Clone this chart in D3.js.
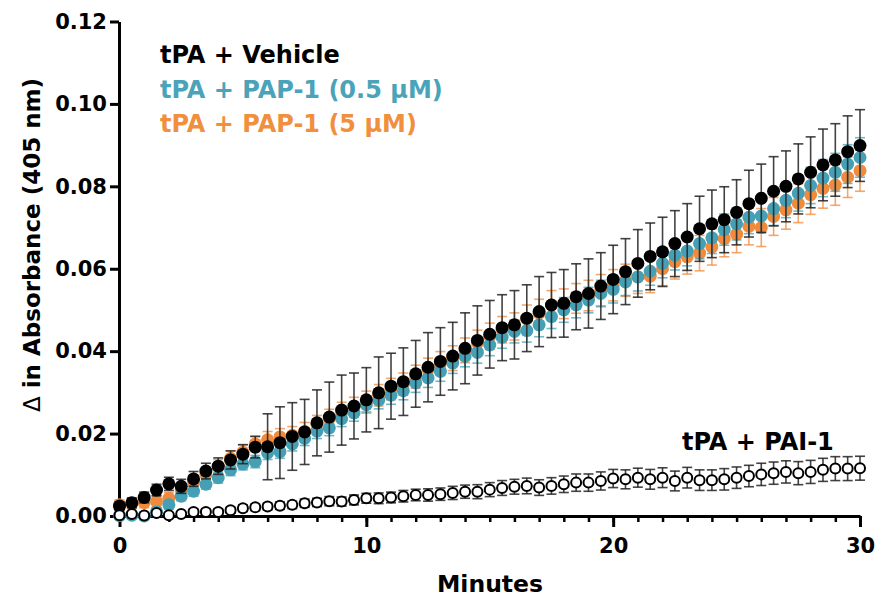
<!DOCTYPE html>
<html>
<head>
<meta charset="utf-8">
<script src="https://cdn.jsdelivr.net/npm/d3@7"></script>
<style>
  body { margin: 0; background: #fff; }
  svg text { font-family: "DejaVu Sans", sans-serif; font-weight: bold; }
</style>
</head>
<body>
<svg id="plot" width="878" height="598"></svg>
<script>
const width = 878;
const height = 598;

// time points, every 30 s
const minutes = d3.range(0, 30.01, 0.5);

const vehicle = [0.0024,0.0032,0.0045,0.0063,0.0078,0.0072,0.0090,0.0109,0.0121,0.0136,
  0.0150,0.0167,0.0168,0.0178,0.0193,0.0204,0.0226,0.0240,0.0257,0.0267,
  0.0282,0.0299,0.0315,0.0326,0.0345,0.0361,0.0375,0.0388,0.0407,0.0426,
  0.0441,0.0457,0.0464,0.0480,0.0496,0.0512,0.0516,0.0532,0.0540,0.0558,
  0.0574,0.0593,0.0613,0.0630,0.0641,0.0661,0.0677,0.0697,0.0709,0.0719,
  0.0737,0.0758,0.0771,0.0788,0.0800,0.0818,0.0834,0.0852,0.0864,0.0884,0.0899];
const vehicleSd = [0.0010,0.0012,0.0013,0.0014,0.0016,0.0017,0.0018,0.0019,0.0020,0.0022,
  0.0023,0.0026,0.0080,0.0087,0.0082,0.0079,0.0080,0.0085,0.0085,0.0080,
  0.0078,0.0087,0.0080,0.0082,0.0081,0.0084,0.0082,0.0082,0.0086,0.0084,
  0.0082,0.0080,0.0083,0.0081,0.0085,0.0079,0.0082,0.0080,0.0084,0.0081,
  0.0083,0.0080,0.0082,0.0081,0.0084,0.0080,0.0081,0.0079,0.0082,0.0080,
  0.0079,0.0081,0.0083,0.0084,0.0086,0.0085,0.0086,0.0087,0.0088,0.0087,0.0087];

const pap05 = [0.0001,0.0002,0.0000,0.0010,0.0027,0.0048,0.0060,0.0077,0.0093,0.0112,
  0.0126,0.0132,0.0153,0.0156,0.0175,0.0188,0.0206,0.0214,0.0236,0.0250,
  0.0270,0.0281,0.0293,0.0304,0.0323,0.0335,0.0351,0.0371,0.0387,0.0397,
  0.0415,0.0434,0.0448,0.0450,0.0464,0.0484,0.0500,0.0512,0.0524,0.0540,
  0.0550,0.0568,0.0580,0.0594,0.0613,0.0633,0.0643,0.0661,0.0675,0.0695,
  0.0709,0.0725,0.0728,0.0746,0.0766,0.0783,0.0802,0.0820,0.0834,0.0854,0.0870];
const pap05Sd = [0.0008,0.0008,0.0009,0.0010,0.0010,0.0011,0.0012,0.0012,0.0013,0.0014,
  0.0014,0.0015,0.0016,0.0016,0.0017,0.0017,0.0018,0.0019,0.0019,0.0020,
  0.0020,0.0021,0.0022,0.0022,0.0023,0.0023,0.0024,0.0025,0.0025,0.0026,
  0.0026,0.0027,0.0028,0.0028,0.0029,0.0029,0.0030,0.0031,0.0031,0.0032,
  0.0033,0.0033,0.0034,0.0034,0.0035,0.0036,0.0036,0.0037,0.0038,0.0038,
  0.0039,0.0040,0.0040,0.0041,0.0042,0.0043,0.0044,0.0045,0.0046,0.0047,0.0048];

const pap5 = [0.0027,0.0030,0.0033,0.0035,0.0043,0.0063,0.0083,0.0101,0.0120,0.0140,
  0.0155,0.0175,0.0185,0.0192,0.0196,0.0205,0.0222,0.0236,0.0252,0.0264,
  0.0278,0.0293,0.0308,0.0320,0.0338,0.0355,0.0370,0.0383,0.0402,0.0420,
  0.0436,0.0452,0.0460,0.0478,0.0492,0.0512,0.0515,0.0528,0.0535,0.0548,
  0.0560,0.0572,0.0580,0.0582,0.0600,0.0617,0.0629,0.0638,0.0653,0.0673,
  0.0684,0.0703,0.0700,0.0727,0.0743,0.0759,0.0780,0.0795,0.0803,0.0822,0.0838];
const pap5Sd = [0.0012,0.0012,0.0013,0.0014,0.0014,0.0015,0.0016,0.0016,0.0017,0.0018,
  0.0018,0.0019,0.0020,0.0020,0.0021,0.0022,0.0022,0.0023,0.0024,0.0024,
  0.0025,0.0026,0.0026,0.0027,0.0028,0.0028,0.0029,0.0030,0.0030,0.0031,
  0.0032,0.0032,0.0033,0.0034,0.0034,0.0035,0.0036,0.0036,0.0037,0.0038,
  0.0038,0.0039,0.0040,0.0040,0.0041,0.0042,0.0042,0.0043,0.0044,0.0044,
  0.0045,0.0045,0.0046,0.0046,0.0047,0.0047,0.0048,0.0048,0.0049,0.0049,0.0050];

const pai1 = [0.0002,0.0005,0.0001,0.0007,0.0002,0.0005,0.0010,0.0010,0.0010,0.0014,
  0.0019,0.0021,0.0023,0.0025,0.0027,0.0031,0.0033,0.0036,0.0035,0.0039,
  0.0043,0.0043,0.0045,0.0048,0.0051,0.0051,0.0053,0.0056,0.0059,0.0059,
  0.0064,0.0068,0.0071,0.0073,0.0069,0.0073,0.0077,0.0081,0.0081,0.0085,
  0.0091,0.0089,0.0093,0.0089,0.0093,0.0085,0.0093,0.0087,0.0087,0.0089,
  0.0093,0.0097,0.0101,0.0104,0.0107,0.0104,0.0107,0.0112,0.0115,0.0115,0.0116];
const pai1Sd = [0.0004,0.0004,0.0005,0.0005,0.0005,0.0006,0.0006,0.0006,0.0007,0.0007,
  0.0008,0.0008,0.0008,0.0009,0.0009,0.0010,0.0010,0.0011,0.0011,0.0012,
  0.0012,0.0013,0.0013,0.0014,0.0014,0.0015,0.0015,0.0016,0.0016,0.0017,
  0.0017,0.0018,0.0018,0.0019,0.0019,0.0020,0.0020,0.0021,0.0021,0.0022,
  0.0022,0.0023,0.0023,0.0024,0.0024,0.0024,0.0025,0.0025,0.0025,0.0026,
  0.0026,0.0026,0.0027,0.0027,0.0027,0.0028,0.0028,0.0028,0.0029,0.0029,0.0029];

const legendLabels = ["tPA + Vehicle", "tPA + PAP-1 (0.5 \u00b5M)", "tPA + PAP-1 (5 \u00b5M)"];
const legendColors = ["#000000", "#4aa3b8", "#f08f3e"];
const xTicksMajor = [0, 10, 20, 30];
const yTicks = [0, 0.02, 0.04, 0.06, 0.08, 0.10, 0.12];

let svg = d3.select("#plot");

let xScale = d3.scaleLinear().domain([0, 30]).range([119.5, 860]);
let yScale = d3.scaleLinear().domain([0, 0.12]).range([516, 21.5]);

// axes
let xMinor = d3.axisBottom(xScale).tickValues(d3.range(0, 31)).tickSize(6).tickSizeOuter(0).tickFormat("");
svg.append("g").attr("class", "x-minor")
  .attr("transform", "translate(0,516)")
  .call(xMinor);

let xAxis = d3.axisBottom(xScale).tickValues(xTicksMajor).tickSize(11).tickSizeOuter(0).tickPadding(11);
svg.append("g").attr("class", "x-axis")
  .attr("transform", "translate(0,516)")
  .call(xAxis);

let yAxis = d3.axisLeft(yScale).tickValues(yTicks).tickSize(9).tickSizeOuter(0).tickPadding(3)
  .tickFormat(d3.format(".2f"));
svg.append("g").attr("class", "y-axis")
  .attr("transform", "translate(119,0)")
  .call(yAxis);

svg.selectAll(".domain").attr("stroke", "#000").attr("stroke-width", 3);
svg.selectAll(".x-minor .tick line").attr("stroke", "#000").attr("stroke-width", 2.5);
svg.selectAll(".x-axis .tick line, .y-axis .tick line").attr("stroke", "#000").attr("stroke-width", 3);
svg.selectAll(".x-axis .tick text, .y-axis .tick text")
  .attr("fill", "#000").style("font-size", "21px");
svg.selectAll(".x-minor .domain").remove();

// labels
svg.append("text")
  .attr("x", 490).attr("y", 592)
  .attr("text-anchor", "middle")
  .style("font-size", "23.5px")
  .text("Minutes");

let yLabel = svg.append("text")
  .attr("transform", "translate(40,245) rotate(-90)")
  .attr("text-anchor", "middle")
  .style("font-size", "23px");
yLabel.append("tspan").style("font-weight", "normal").text("\u0394");
yLabel.append("tspan").text(" in Absorbance (405 nm)");

// series
const series = [
  { values: pap5, sd: pap5Sd, color: "#f08a3c", bar: "#f08a3c", barOpacity: 0.75, open: false },
  { values: pap05, sd: pap05Sd, color: "#45a0b5", bar: "#45a0b5", barOpacity: 0.75, open: false },
  { values: vehicle, sd: vehicleSd, color: "#000", bar: "#222", barOpacity: 0.85, open: false },
  { values: pai1, sd: pai1Sd, color: "#000", bar: "#222", barOpacity: 0.85, open: true }
];

const cap = 5;
series.forEach(s => {
  let g = svg.append("g");
  let pts = minutes.map((t, i) => ({ t: t, v: s.values[i], e: s.sd[i] }));

  let bars = g.append("g")
    .attr("stroke", s.bar)
    .attr("stroke-opacity", s.barOpacity)
    .attr("stroke-width", 1.6);
  bars.selectAll("line.v")
    .data(pts)
    .join(enter => enter.append("line").attr("class", "v"))
    .attr("x1", d => xScale(d.t)).attr("x2", d => xScale(d.t))
    .attr("y1", d => yScale(d.v - d.e)).attr("y2", d => yScale(d.v + d.e));
  bars.selectAll("line.top")
    .data(pts)
    .join(enter => enter.append("line").attr("class", "top"))
    .attr("x1", d => xScale(d.t) - cap).attr("x2", d => xScale(d.t) + cap)
    .attr("y1", d => yScale(d.v + d.e)).attr("y2", d => yScale(d.v + d.e));
  bars.selectAll("line.bot")
    .data(pts)
    .join(enter => enter.append("line").attr("class", "bot"))
    .attr("x1", d => xScale(d.t) - cap).attr("x2", d => xScale(d.t) + cap)
    .attr("y1", d => yScale(d.v - d.e)).attr("y2", d => yScale(d.v - d.e));

  g.selectAll("circle")
    .data(pts)
    .join("circle")
    .attr("cx", d => xScale(d.t))
    .attr("cy", d => yScale(d.v))
    .attr("r", s.open ? 5 : 6.5)
    .attr("fill", s.open ? "#fff" : s.color)
    .attr("stroke", s.open ? "#000" : "none")
    .attr("stroke-width", 2);
});

// legend
svg.selectAll("text.legend")
  .data(legendLabels)
  .join("text")
  .attr("class", "legend")
  .attr("x", 160)
  .attr("y", (d, i) => 63 + i * 34.5)
  .attr("fill", (d, i) => legendColors[i])
  .style("font-size", "24px")
  .text(d => d);

svg.append("text")
  .attr("x", 682).attr("y", 450)
  .style("font-size", "24px")
  .text("tPA + PAI-1");
</script>
</body>
</html>
